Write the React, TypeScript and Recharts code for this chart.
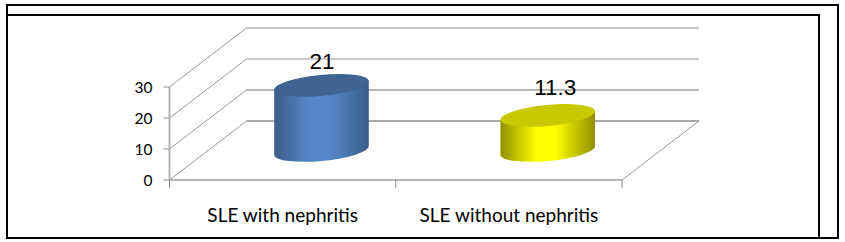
import React from 'react'
import { BarChart, Bar, XAxis, YAxis, CartesianGrid, LabelList } from 'recharts'

const categories = ['SLE with nephritis', 'SLE without nephritis']
const values = [21, 11.3]
const yTicks = [0, 10, 20, 30]

const data = categories.map((name, i) => ({ name, value: values[i] }))

// 3D look: how far the back wall sits from the front of the floor
const DEPTH_X = 77
const DEPTH_Y = 59
const TILT = -5.4
const sideColors = [
  ['#3a5d88', '#5688c9'],
  ['#8f8f00', '#ffff00'],
]
const topColors = ['#3e6491', '#c9c900']
const gridColors = ['#8c8c8c', '#a0a0a0', '#b8b8b8', '#b0b0b0']
const labelNudge = [
  { dx: 39, dy: -46 },
  { dx: 46, dy: -50 },
]

const WallLine = (props: any) => {
  const { x1, x2, y1, index } = props
  const isFloor = y1 > 170
  const bx1 = x1 + DEPTH_X
  const bx2 = x2 + DEPTH_X
  const by = y1 - DEPTH_Y
  const mid = (x1 + x2) / 2
  return (
    <g key={`wall-${index}`} fill="none">
      <line x1={x1} y1={y1} x2={bx1} y2={by} stroke="#9a9a9a" strokeWidth={1} />
      <line x1={bx1} y1={by} x2={bx2} y2={by} stroke={gridColors[isFloor ? 0 : index] ?? '#aaa'} strokeWidth={1.5} />
      {isFloor && (
        <g>
          <line x1={x2} y1={y1} x2={bx2} y2={by} stroke="#9a9a9a" strokeWidth={1} />
          <line x1={x1} y1={y1} x2={x2} y2={y1} stroke="#b5b5b5" strokeWidth={2} />
          {[x1, mid, x2].map((x) => (
            <line key={x} x1={x} y1={y1} x2={x} y2={y1 + 8} stroke="#8c8c8c" strokeWidth={1} />
          ))}
        </g>
      )}
    </g>
  )
}

const Cylinder = (props: any) => {
  const { x, y, width, height, index } = props
  const rx = width / 2
  const ry = 10.5
  const cx = x + rx + 38.5
  const top = y - DEPTH_Y / 2
  const bottom = y + height - DEPTH_Y / 2
  const rad = (TILT * Math.PI) / 180
  const ex = rx * Math.cos(rad)
  const ey = rx * Math.sin(rad)
  const arc = `A${rx} ${ry} ${TILT}`
  return (
    <g>
      <path
        d={`M${cx - ex} ${top - ey} L${cx - ex} ${bottom - ey} ${arc} 0 0 ${cx + ex} ${bottom + ey} L${cx + ex} ${top + ey} Z`}
        fill={`url(#side${index})`}
      />
      <path
        d={`M${cx - ex} ${top - ey} ${arc} 0 1 ${cx + ex} ${top + ey} ${arc} 0 1 ${cx - ex} ${top - ey} Z`}
        fill={topColors[index]}
      />
    </g>
  )
}

const ValueLabel = (props: any) => {
  const { x, y, width, value, index } = props
  return (
    <text
      x={x + width / 2 + labelNudge[index].dx}
      y={y + labelNudge[index].dy}
      textAnchor="middle"
      fontFamily="Liberation Sans"
      fontSize={22.5}
      fill="#000"
    >
      {value}
    </text>
  )
}

const line = (style: React.CSSProperties) => (
  <div style={{ position: 'absolute', background: '#000', ...style }} />
)

export default function App() {
  return (
    <div style={{ position: 'fixed', left: 0, top: 0, width: 845, height: 242, background: '#fff', overflow: 'hidden' }}>
      <BarChart
        width={845}
        height={242}
        data={data}
        barSize={95}
        margin={{ top: 87, right: 223, bottom: 22, left: 129.5 }}
      >
        <defs>
          {sideColors.map(([edge, mid], i) => (
            <linearGradient key={i} id={`side${i}`} x1="0" y1="0" x2="1" y2="0">
              <stop offset="0%" stopColor={edge} />
              <stop offset="38%" stopColor={mid} />
              <stop offset="58%" stopColor={mid} />
              <stop offset="100%" stopColor={edge} />
            </linearGradient>
          ))}
        </defs>
        <CartesianGrid vertical={false} horizontal={WallLine as any} />
        <XAxis
          dataKey="name"
          height={40}
          axisLine={false}
          tickLine={false}
          interval={0}
          tickMargin={23}
          tick={{ fill: '#000', fontSize: 19, fontFamily: 'Lato' }}
        />
        <YAxis
          width={40}
          domain={[0, 30]}
          ticks={yTicks}
          axisLine={{ stroke: '#b5b5b5', strokeWidth: 2 }}
          tickLine={{ stroke: '#8c8c8c' }}
          tickSize={6}
          tickMargin={11}
          tick={{ fill: '#000', fontSize: 15.5, fontFamily: 'Lato' }}
        />
        <Bar dataKey="value" isAnimationActive={false} shape={Cylinder}>
          <LabelList dataKey="value" content={ValueLabel as any} />
        </Bar>
      </BarChart>
      {line({ left: 6, top: 4, width: 833, height: 2 })}
      {line({ left: 6, top: 237, width: 833, height: 2 })}
      {line({ left: 6, top: 4, width: 2, height: 235 })}
      {line({ left: 837, top: 4, width: 2, height: 235 })}
      {line({ left: 6, top: 14, width: 814, height: 2 })}
      {line({ left: 818, top: 14, width: 2, height: 225 })}
    </div>
  )
}
